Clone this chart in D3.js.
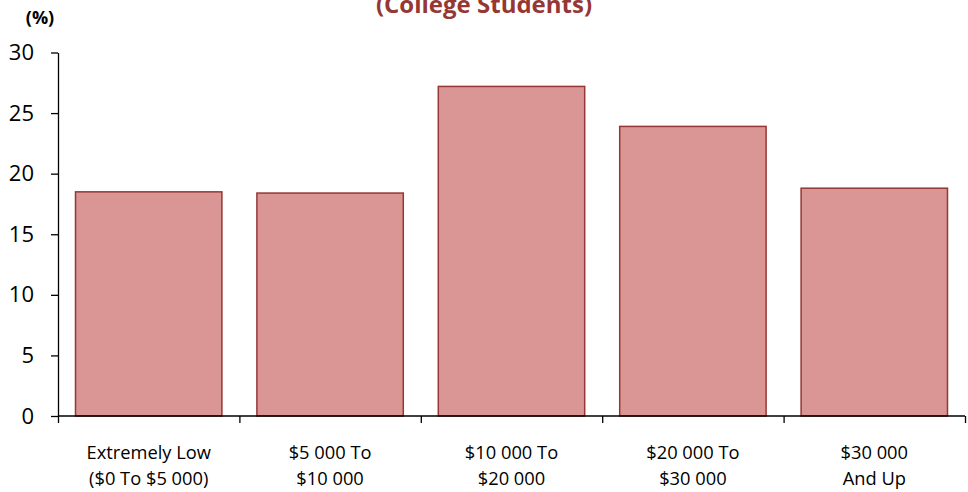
<!DOCTYPE html>
<html><head><meta charset="utf-8">
<script src="https://cdn.jsdelivr.net/npm/d3@7"></script>
<style>
html,body{margin:0;padding:0;background:#fff;}
svg{display:block;font-family:"Open Sans",sans-serif;}
</style></head>
<body>
<svg id="chart" width="968" height="492"></svg>
<script>
const categories = [
  ["Extremely Low", "($0 To $5 000)"],
  ["$5 000 To", "$10 000"],
  ["$10 000 To", "$20 000"],
  ["$20 000 To", "$30 000"],
  ["$30 000", "And Up"]
];
const values = [18.5, 18.4, 27.2, 23.9, 18.8];
const yTicks = [0, 5, 10, 15, 20, 25, 30];
const title = "(College Students)";
const unitLabel = "(%)";

const svg = d3.select("#chart");
const margin = {left: 58, right: 3, top: 52.5, bottom: 76};
const W = 968, H = 492;
const ids = categories.map((c, i) => i);

const x = d3.scaleBand().domain(ids).range([margin.left, W - margin.right])
  .paddingInner(0.193).paddingOuter(0.0965);
const y = d3.scaleLinear().domain([0, 30]).range([H - margin.bottom, margin.top]);

// bars
svg.append("g").selectAll("rect").data(values).join("rect")
  .attr("x", (d, i) => x(i))
  .attr("y", d => y(d))
  .attr("width", x.bandwidth())
  .attr("height", d => y(0) - y(d))
  .attr("fill", "#D99694")
  .attr("stroke", "#953735")
  .attr("stroke-width", 1.5);

// y axis
const yAxis = svg.append("g").attr("transform", `translate(${margin.left},0)`)
  .call(d3.axisLeft(y).tickValues(yTicks).tickSize(7).tickSizeOuter(0).tickPadding(17));
yAxis.select(".domain").attr("stroke", "#000").attr("stroke-width", 1.3);
yAxis.selectAll(".tick line").attr("stroke", "#000").attr("stroke-width", 1.3);
yAxis.selectAll(".tick text").attr("font-size", 22).attr("fill", "#000")
  .attr("font-family", "'Open Sans', sans-serif");

// x axis
const xEdges = d3.scaleLinear().domain([0, categories.length]).range([margin.left, W - margin.right]);
const xAxis = svg.append("g").attr("transform", `translate(0,${y(0)})`)
  .call(d3.axisBottom(xEdges).tickValues(d3.range(categories.length + 1)).tickSize(7).tickFormat(""));
xAxis.select(".domain").attr("stroke", "#000").attr("stroke-width", 1.3).attr("d", `M${margin.left},0H${W - margin.right}`);
xAxis.selectAll(".tick line").attr("stroke", "#000").attr("stroke-width", 1.3);

// category labels
const lab = svg.append("g").selectAll("text").data(categories).join("text")
  .attr("x", (d, i) => x(i) + x.bandwidth() / 2)
  .attr("y", 459)
  .attr("text-anchor", "middle")
  .attr("font-size", 18.3)
  .attr("fill", "#000");
lab.each(function(d) {
  const t = d3.select(this);
  d.forEach((line, k) => t.append("tspan").attr("x", t.attr("x")).attr("dy", k ? 26 : 0).text(line));
});

// title
svg.append("text").attr("x", 484).attr("y", 13).attr("text-anchor", "middle")
  .attr("font-size", 24).attr("font-weight", "bold").attr("fill", "#953735").text(title);

svg.append("text").attr("x", 40).attr("y", 24).attr("text-anchor", "middle")
  .attr("font-size", 18).attr("font-weight", "bold").attr("fill", "#000").text(unitLabel);
</script>
</body></html>
